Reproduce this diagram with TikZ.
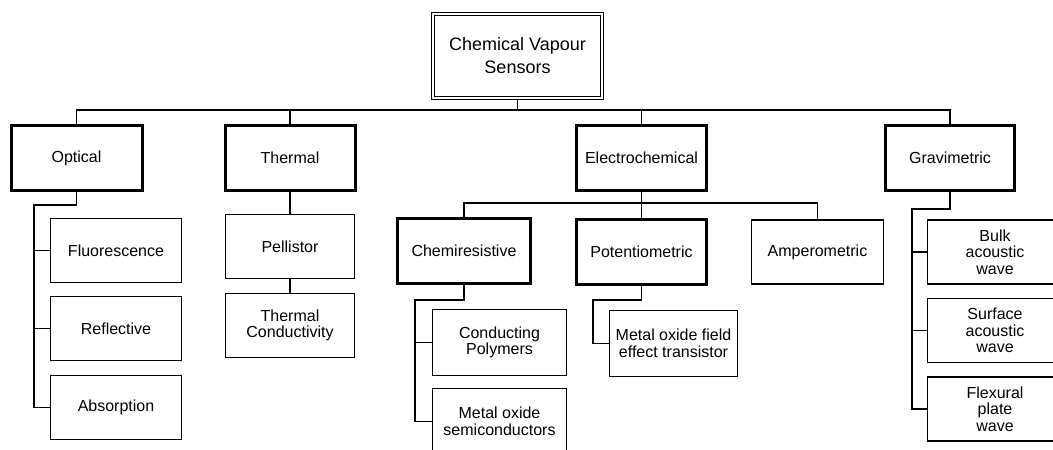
\documentclass[tikz,border=0pt]{standalone}
\usepackage{fontspec}
\setmainfont{Liberation Sans}
\usepackage{tikz}

\begin{document}
\begin{tikzpicture}[x=1pt, y=-1pt, line width=1.1pt,
    leaf/.style={draw, line width=1.3pt, align=center, inner sep=0pt,
      minimum width=131pt, minimum height=64pt,
      font=\fontsize{16}{16.5}\selectfont},
    group/.style={leaf, line width=3pt, minimum width=130pt, minimum height=65pt},
    root/.style={leaf, line width=1.4pt, minimum width=172pt, minimum height=87pt,
      font=\fontsize{18}{23}\selectfont}]
    \useasboundingbox (0,0) rectangle (1053,450);
    % Top
    \node[root] (root) at (517.5,56) {Chemical Vapour\\Sensors};
    \draw[line width=0.8pt] ([shift={(3.5pt,3.5pt)}]root.south west)
      rectangle ([shift={(-3.5pt,-3.5pt)}]root.north east);
    \coordinate (rootbus) at (517.5,110);
    % Sensor groups
    \node[group, minimum width=131pt] (opt) at (76.5,158) {Optical};
    \node[group] (therm) at (290,158) {Thermal};
    \node[group] (elec) at (641.5,158) {Electrochemical};
    \node[group, minimum width=129pt] (grav) at (950,158) {Gravimetric};
    \draw (root.south) -- (rootbus);
    \draw (opt.north) |- (rootbus) -| (grav.north);
    \draw (therm.north) -- (therm.north |- rootbus);
    \draw (elec.north) -- (elec.north |- rootbus);
    % Optical
    \node[leaf] (fluor) at (116,250.5) {Fluorescence};
    \node[leaf] (refl) at (116,328.5) {Reflective};
    \node[leaf] (absorp) at (116,407.5) {Absorption};
    \coordinate (optbus) at (34,205);
    \draw (opt.south) |- (optbus) |- (absorp.west);
    \draw (fluor.west) -- (fluor.west -| optbus);
    \draw (refl.west) -- (refl.west -| optbus);
    % Thermal
    \node[leaf, minimum width=129pt] (pell) at (290,246.5) {Pellistor};
    \node[leaf, minimum width=129pt] (tcond) at (290,325.5) {Thermal\\Conductivity};
    \draw (therm.south) -- (pell.north);
    \draw (pell.south) -- (tcond.north);
    % Electrochemical
    \coordinate (elecbus) at (641.5,203);
    \node[group, minimum width=133pt] (chemi) at (464,250.5) {Chemiresistive};
    \node[group] (poten) at (641.5,251.5) {Potentiometric};
    \node[leaf, minimum width=132pt] (amper) at (817.5,252) {Amperometric};
    \draw (elec.south) -- (elecbus);
    \draw (chemi.north) |- (elecbus) -| (amper.north);
    \draw (poten.north) -- (elecbus);
    % Chemiresistive
    \node[leaf, minimum width=134pt, minimum height=66pt] (cpoly) at (499.5,342.5) {Conducting\\Polymers};
    \node[leaf, minimum width=134pt, minimum height=66pt] (moxs) at (499.5,421.5) {Metal oxide\\semiconductors};
    \coordinate (chemibus) at (415,300);
    \draw (chemi.south) |- (chemibus) |- (moxs.west);
    \draw (cpoly.west) -- (cpoly.west -| chemibus);
    % Potentiometric
    \node[leaf, minimum width=128pt, minimum height=66pt] (mosfet) at (673.5,343.5) {Metal oxide field\\effect transistor};
    \coordinate (potbus) at (593,300);
    \draw (poten.south) |- (potbus) |- (mosfet.west);
    % Gravimetric
    \node[leaf, minimum width=135pt] (baw) at (995,252) {Bulk\\acoustic\\wave};
    \node[leaf, minimum width=135pt] (saw) at (995,330.5) {Surface\\acoustic\\wave};
    \node[leaf, minimum width=135pt] (fpw) at (995,409) {Flexural\\plate\\wave};
    \coordinate (gravbus) at (912,209);
    \draw (grav.south) |- (gravbus) |- (fpw.west);
    \draw (baw.west) -- (baw.west -| gravbus);
    \draw (saw.west) -- (saw.west -| gravbus);
\end{tikzpicture}
\end{document}
